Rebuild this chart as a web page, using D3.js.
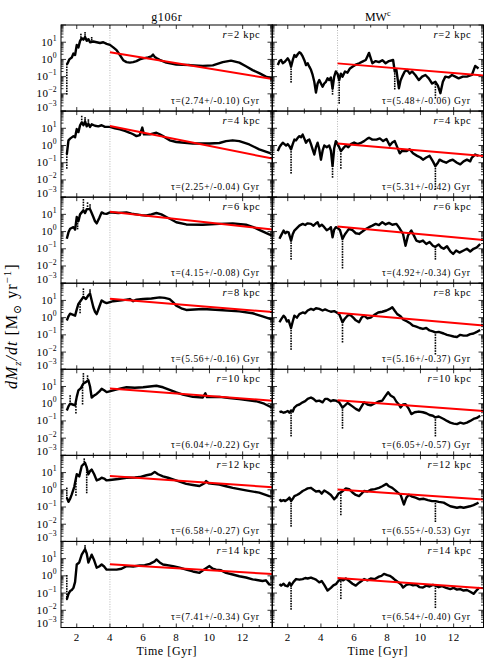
<!DOCTYPE html>
<html>
<head>
<meta charset="utf-8">
<script src="https://cdn.jsdelivr.net/npm/d3@7"></script>
<style>
  body { margin: 0; background: #fff; }
  text { font-family: "Liberation Serif", "DejaVu Serif", serif; fill: #000; }
</style>
</head>
<body>
<div id="vis-container"></div>
<script>
// ---- data ----
const columns = ["g106r", "MW"];
const radii = [2, 4, 6, 8, 10, 12, 14];

const tauG = [2.74, 2.25, 4.15, 5.56, 6.04, 6.58, 7.41];
const tauErrG = [0.10, 0.04, 0.08, 0.16, 0.22, 0.27, 0.34];
const tauMW = [5.48, 5.31, 4.92, 5.16, 6.05, 6.55, 6.54];
const tauErrMW = [0.06, 0.42, 0.34, 0.37, 0.57, 0.53, 0.40];

// fitted rate at the start of the fit window
const fitStartG = [2.6, 13.5, 14, 12.4, 7.6, 6.3, 4.8];
const fitStartMW = [0.59, 1.3, 1.95, 1.9, 1.6, 1.05, 0.74];
const fitFrom = [4, 5];
const fitTo = 13.8;

const xTicks = [2, 4, 6, 8, 10, 12];
const yTicks = [1e-3, 1e-2, 1e-1, 1e0, 1e1];

// [time Gyr, dMz/dt Msun/yr]
const gCurves = [
  [[1.4,0.5],[1.45,0.6],[1.55,1.0],[1.7,1.3],[1.8,2.2],[1.9,1.8],[2.0,7],[2.1,5],[2.2,12],[2.3,17],[2.4,14],[2.5,20],[2.6,12],[2.7,15],[2.8,10],[3.0,11],[3.2,10],[3.4,9],[3.6,10],[3.8,8],[4.0,7],[4.2,5],[4.4,3.5],[4.6,1.8],[4.8,0.9],[5.0,0.7],[5.2,0.65],[5.4,0.7],[5.6,0.8],[5.8,1.0],[6.0,1.15],[6.3,1.3],[6.5,1.5],[6.6,1.9],[6.7,1.4],[6.8,1.2],[7.0,0.95],[7.4,0.65],[8.0,0.5],[8.8,0.47],[9.6,0.42],[10.2,0.45],[10.8,0.7],[11.3,0.85],[11.8,0.65],[12.2,0.4],[12.6,0.24],[13.0,0.16],[13.4,0.1],[13.75,0.08]],
  [[1.4,0.3],[1.5,2.0],[1.6,2.5],[1.8,3.5],[1.9,3],[2.0,9],[2.1,6],[2.2,15],[2.3,22],[2.4,15],[2.5,25],[2.6,13],[2.7,18],[2.8,12],[2.9,17],[3.1,14],[3.3,13],[3.5,15],[3.7,12],[4.0,12],[4.3,10],[4.6,8.7],[4.9,7],[5.2,5.5],[5.4,4.5],[5.6,3.5],[5.8,4],[5.95,11],[6.05,4.4],[6.4,4.4],[6.8,5.5],[7.0,4.5],[7.2,3.5],[7.6,2],[8.0,1.6],[9.0,1.3],[10.0,1.3],[10.6,1.4],[11.0,1.8],[11.4,2.0],[11.8,1.8],[12.4,1.15],[13.0,0.6],[13.7,0.35]],
  [[1.4,0.38],[1.5,0.9],[1.6,1.45],[1.8,1.8],[1.9,1.3],[2.0,7],[2.1,4],[2.2,10],[2.4,17],[2.5,12],[2.6,20],[2.8,20],[2.9,12],[3.0,7],[3.1,4],[3.2,3],[3.35,6],[3.5,13],[3.65,11],[3.8,10.7],[4.0,13],[4.5,12],[5.0,13],[5.3,11],[5.6,10],[5.9,9],[6.2,8.6],[6.5,10],[6.8,12],[7.1,10],[7.4,7],[7.7,5],[8.0,3.5],[8.6,2.6],[9.6,2.5],[10.6,2.8],[11.4,3.0],[12.2,2.5],[12.6,1.9],[13.0,1.25],[13.6,0.68],[13.75,0.6]],
  [[1.4,0.68],[1.5,1.2],[1.6,1.7],[1.75,1.5],[1.9,1.3],[2.0,3],[2.1,6.3],[2.25,10],[2.4,16],[2.55,12],[2.7,20],[2.8,25],[2.9,10],[3.0,4],[3.1,2.2],[3.2,1.6],[3.35,4],[3.5,10],[3.65,8],[3.8,7],[4.2,9],[4.7,10],[5.2,12],[5.4,9],[5.6,11],[6.0,12],[6.5,13],[7.0,15],[7.3,14],[7.6,12],[7.8,8],[8.0,5],[8.3,3.5],[8.6,2.8],[9.6,3.2],[10.6,2.8],[11.8,2.3],[12.6,1.8],[13.2,1.2],[13.75,0.8]],
  [[1.4,0.4],[1.5,0.7],[1.6,1.0],[1.75,0.9],[1.9,0.8],[2.0,2.5],[2.1,6],[2.25,8],[2.4,15],[2.55,18],[2.7,23],[2.8,10],[2.9,2.3],[3.05,3],[3.2,3.7],[3.35,5],[3.5,7.3],[3.65,6],[3.8,4.7],[4.2,6],[4.6,7.5],[5.0,9],[5.5,8.5],[6.0,9],[6.4,10],[6.8,11],[7.2,9],[7.6,6.3],[8.0,4.5],[8.4,3.4],[9.0,2.5],[9.6,2.3],[9.75,4],[9.85,2.4],[10.6,2.5],[11.2,2.1],[11.8,1.85],[12.8,1.4],[13.3,1.0],[13.75,0.6]],
  [[1.4,0.35],[1.5,0.2],[1.6,0.3],[1.7,0.54],[1.85,1.5],[2.0,8],[2.15,6],[2.3,24],[2.4,30],[2.5,37],[2.6,20],[2.7,8],[2.8,12],[2.9,15],[3.05,8],[3.2,3.5],[3.35,4],[3.5,5],[3.65,4.5],[3.8,3.5],[4.0,3.7],[4.5,4.2],[5.0,5],[5.5,5.2],[5.8,5.5],[6.2,7],[6.5,8],[6.7,11],[6.9,8],[7.2,6],[7.5,5],[7.8,4],[8.2,3],[8.6,2.2],[9.0,1.9],[9.4,1.65],[9.7,2.4],[9.8,3.2],[9.95,2.4],[10.2,2.2],[10.6,2.0],[11.0,1.6],[11.4,1.3],[12.2,0.93],[13.0,0.68],[13.6,0.43],[13.75,0.4]],
  [[1.4,0.043],[1.5,0.09],[1.6,0.13],[1.7,0.15],[1.8,0.2],[1.9,0.45],[2.0,4.6],[2.15,6],[2.3,17],[2.4,25],[2.5,35],[2.6,20],[2.7,6],[2.8,10],[2.9,17],[3.05,8],[3.2,3],[3.35,3.5],[3.5,4.6],[3.65,3.5],[3.8,2.3],[4.4,2.3],[4.7,2.6],[5.0,3.7],[5.4,3.5],[5.8,4],[6.1,4.2],[6.4,5],[6.7,7],[6.8,9],[7.0,6],[7.2,4.6],[7.8,3.7],[8.2,3],[8.6,2.3],[9.0,1.8],[9.4,1.5],[9.7,2.4],[10.0,3.7],[10.2,2.6],[10.4,2.3],[10.7,2.1],[11.0,1.5],[11.4,1.2],[11.8,0.95],[12.2,0.8],[12.6,0.63],[13.2,0.5],[13.4,0.55],[13.6,0.32],[13.75,0.3]]
];

const mwCurves = [
  [[1.4,0.47],[1.5,0.8],[1.6,0.93],[1.7,0.6],[1.8,0.7],[1.9,0.9],[2.0,1.15],[2.1,0.8],[2.2,0.38],[2.3,0.9],[2.4,1.8],[2.5,1.4],[2.6,2.0],[2.7,2.6],[2.8,2.2],[2.9,1.5],[3.0,0.9],[3.1,0.47],[3.2,0.6],[3.3,0.38],[3.4,0.25],[3.5,0.125],[3.6,0.05],[3.7,0.012],[3.8,0.04],[3.9,0.063],[4.0,0.04],[4.1,0.026],[4.2,0.04],[4.3,0.05],[4.4,0.08],[4.5,0.063],[4.6,0.09],[4.7,0.02],[4.8,0.1],[4.9,0.2],[5.0,0.15],[5.1,0.063],[5.2,0.15],[5.3,0.1],[5.45,0.2],[5.6,0.17],[5.75,0.3],[5.9,0.38],[6.1,0.5],[6.3,0.6],[6.5,0.75],[6.7,0.93],[6.8,1.5],[6.9,2.4],[7.0,1.2],[7.1,0.6],[7.3,0.8],[7.5,0.7],[7.7,0.9],[7.9,0.6],[8.1,0.8],[8.35,0.93],[8.45,0.2],[8.55,0.25],[8.7,0.021],[8.8,0.06],[8.9,0.1],[9.05,0.2],[9.2,0.24],[9.35,0.15],[9.5,0.2],[9.7,0.12],[9.9,0.063],[10.1,0.1],[10.3,0.125],[10.5,0.08],[10.7,0.04],[10.9,0.05],[11.05,0.03],[11.2,0.011],[11.35,0.05],[11.5,0.1],[11.7,0.09],[11.9,0.125],[12.1,0.1],[12.3,0.08],[12.55,0.1],[12.8,0.1],[13.1,0.125],[13.3,0.42],[13.5,0.3]],
  [[1.4,0.47],[1.5,0.8],[1.6,1.1],[1.7,1.45],[1.8,1.2],[1.9,1.0],[2.0,1.2],[2.1,0.9],[2.2,0.6],[2.3,1.2],[2.4,2.2],[2.5,2.0],[2.6,2.8],[2.7,3.5],[2.8,3.0],[2.9,4.3],[3.0,2.5],[3.1,1.45],[3.2,2.0],[3.3,2.2],[3.4,1.2],[3.5,0.6],[3.6,0.3],[3.7,0.8],[3.8,1.45],[3.9,0.6],[4.0,0.15],[4.1,0.5],[4.2,1.0],[4.35,0.8],[4.5,1.0],[4.6,0.5],[4.7,0.063],[4.8,0.7],[4.9,1.8],[5.0,1.2],[5.1,0.8],[5.2,0.47],[5.35,0.7],[5.5,1.0],[5.65,0.8],[5.8,1.2],[6.0,1.5],[6.2,1.2],[6.4,1.4],[6.6,1.8],[6.8,2.5],[6.9,2.8],[7.1,2.2],[7.35,2.2],[7.55,2.6],[7.75,1.8],[7.95,2.4],[8.15,1.0],[8.3,1.5],[8.45,1.8],[8.6,0.8],[8.75,0.35],[8.9,0.5],[9.15,0.47],[9.35,0.6],[9.55,0.35],[9.8,0.25],[10.0,0.2],[10.15,0.15],[10.35,0.2],[10.55,0.25],[10.75,0.12],[10.9,0.063],[11.05,0.1],[11.15,0.15],[11.35,0.12],[11.55,0.1],[11.75,0.13],[11.95,0.15],[12.2,0.1],[12.4,0.08],[12.6,0.12],[12.8,0.15],[13.0,0.12],[13.1,0.2],[13.3,0.3],[13.5,0.25]],
  [[1.5,0.38],[1.6,0.6],[1.75,1.15],[1.85,0.8],[1.95,0.97],[2.05,0.9],[2.2,0.3],[2.3,0.7],[2.4,1.15],[2.55,1.6],[2.7,2.2],[2.9,2.8],[3.05,2.4],[3.2,3.0],[3.4,2.8],[3.55,2.2],[3.7,3.0],[3.8,3.5],[3.9,2.0],[4.05,2.5],[4.2,1.8],[4.35,1.2],[4.5,1.45],[4.6,1.8],[4.7,0.47],[4.8,1.3],[4.9,1.8],[5.05,1.5],[5.15,1.2],[5.3,0.38],[5.45,0.7],[5.6,1.1],[5.7,1.45],[5.9,1.2],[6.1,0.8],[6.3,0.73],[6.5,1.0],[6.7,1.4],[6.9,1.8],[7.1,2.2],[7.3,2.8],[7.5,2.4],[7.7,3.5],[7.9,2.6],[8.1,3.2],[8.3,2.5],[8.55,2.8],[8.75,1.5],[8.95,0.73],[9.1,0.15],[9.25,0.6],[9.45,1.15],[9.6,0.6],[9.75,0.3],[9.95,0.25],[10.15,0.3],[10.35,0.19],[10.55,0.25],[10.75,0.15],[10.9,0.13],[11.1,0.18],[11.25,0.12],[11.4,0.1],[11.6,0.14],[11.8,0.07],[11.97,0.05],[12.15,0.08],[12.35,0.06],[12.6,0.08],[12.8,0.1],[13.0,0.07],[13.2,0.1],[13.4,0.12],[13.6,0.19]],
  [[1.5,0.54],[1.6,0.8],[1.75,1.3],[1.85,1.0],[1.95,0.6],[2.05,0.7],[2.2,0.25],[2.3,0.6],[2.4,1.3],[2.55,1.0],[2.7,1.6],[2.9,2.0],[3.05,1.8],[3.2,2.6],[3.4,3.2],[3.55,2.8],[3.7,3.5],[3.9,3.2],[4.1,2.6],[4.25,3.0],[4.4,2.6],[4.6,2.2],[4.8,2.4],[4.95,2.0],[5.1,1.6],[5.3,0.54],[5.45,0.9],[5.6,1.3],[5.75,1.5],[5.95,1.0],[6.1,0.7],[6.3,0.54],[6.45,1.0],[6.6,1.3],[6.8,0.9],[7.0,1.0],[7.2,1.4],[7.45,2.0],[7.7,2.2],[7.95,2.6],[8.15,3.2],[8.3,4.0],[8.45,2.5],[8.6,1.6],[8.8,1.2],[8.95,0.8],[9.2,0.6],[9.4,0.45],[9.55,0.34],[9.75,0.3],[9.95,0.25],[10.15,0.22],[10.35,0.25],[10.55,0.18],[10.75,0.16],[10.9,0.14],[11.1,0.15],[11.4,0.12],[11.6,0.1],[11.8,0.09],[12.0,0.08],[12.2,0.075],[12.4,0.1],[12.6,0.09],[12.8,0.09],[13.0,0.11],[13.2,0.12],[13.4,0.15],[13.6,0.19]],
  [[1.5,0.32],[1.6,0.35],[1.75,0.3],[1.85,0.32],[2.0,0.38],[2.1,0.3],[2.2,0.4],[2.3,0.35],[2.4,0.6],[2.55,0.8],[2.7,0.9],[2.9,1.2],[3.05,1.4],[3.2,1.9],[3.4,2.3],[3.55,1.9],[3.7,1.4],[3.9,1.5],[4.1,1.2],[4.25,1.9],[4.4,1.9],[4.6,1.4],[4.75,1.6],[4.9,1.5],[5.1,1.2],[5.3,0.6],[5.45,0.8],[5.6,1.1],[5.7,0.95],[5.9,0.7],[6.1,0.5],[6.3,0.4],[6.45,0.7],[6.6,1.2],[6.8,0.9],[7.0,0.8],[7.2,1.0],[7.45,1.3],[7.7,1.5],[7.85,2.5],[8.05,4.6],[8.2,3.0],[8.4,2.3],[8.55,1.3],[8.7,0.9],[8.8,0.6],[8.95,0.9],[9.1,0.95],[9.3,0.5],[9.45,0.25],[9.65,0.32],[9.9,0.35],[10.15,0.32],[10.35,0.28],[10.55,0.22],[10.75,0.2],[10.9,0.16],[11.1,0.18],[11.4,0.13],[11.6,0.1],[11.8,0.08],[12.0,0.07],[12.2,0.065],[12.4,0.08],[12.6,0.07],[12.8,0.08],[13.0,0.1],[13.2,0.13],[13.4,0.15],[13.6,0.2]],
  [[1.5,0.28],[1.6,0.22],[1.75,0.25],[1.85,0.22],[2.0,0.28],[2.1,0.35],[2.2,0.22],[2.3,0.3],[2.4,0.43],[2.55,0.5],[2.7,0.6],[2.9,0.85],[3.05,1.0],[3.2,1.2],[3.4,1.3],[3.55,1.0],[3.7,0.8],[3.9,0.85],[4.05,0.6],[4.2,0.9],[4.4,0.7],[4.6,0.5],[4.8,0.28],[4.95,0.4],[5.05,0.6],[5.2,0.7],[5.35,0.9],[5.5,1.2],[5.7,1.1],[5.9,0.7],[6.1,0.5],[6.3,0.43],[6.45,0.6],[6.6,0.85],[6.8,0.8],[7.0,1.0],[7.25,1.1],[7.5,1.3],[7.7,1.6],[7.95,2.2],[8.1,1.6],[8.3,1.3],[8.5,0.9],[8.7,0.6],[8.8,0.52],[9.0,0.14],[9.15,0.35],[9.3,0.52],[9.5,0.4],[9.7,0.35],[9.95,0.28],[10.2,0.3],[10.45,0.25],[10.7,0.22],[10.9,0.22],[11.1,0.2],[11.4,0.18],[11.6,0.14],[11.8,0.11],[12.0,0.1],[12.2,0.09],[12.4,0.1],[12.6,0.09],[12.8,0.1],[12.98,0.11],[13.2,0.13],[13.35,0.15],[13.5,0.18]],
  [[1.5,0.33],[1.6,0.27],[1.75,0.35],[1.85,0.27],[2.0,0.25],[2.1,0.4],[2.2,0.27],[2.35,0.45],[2.5,0.65],[2.7,0.6],[2.9,0.65],[3.05,0.75],[3.2,0.7],[3.4,0.8],[3.55,0.7],[3.7,0.6],[3.9,0.42],[4.05,0.5],[4.2,0.3],[4.4,0.14],[4.6,0.2],[4.75,0.28],[4.9,0.33],[5.05,0.5],[5.2,0.65],[5.35,0.55],[5.5,0.7],[5.7,0.5],[5.9,0.35],[6.1,0.27],[6.3,0.4],[6.45,0.5],[6.6,0.65],[6.8,0.55],[7.0,0.7],[7.25,0.65],[7.5,0.9],[7.65,1.0],[7.8,1.3],[8.0,1.1],[8.15,1.0],[8.3,0.8],[8.5,0.55],[8.7,0.4],[8.85,0.3],[8.95,0.21],[9.15,0.3],[9.35,0.33],[9.55,0.28],[9.75,0.3],[9.95,0.22],[10.15,0.21],[10.35,0.27],[10.55,0.24],[10.75,0.3],[10.9,0.27],[11.1,0.22],[11.3,0.25],[11.55,0.2],[11.8,0.17],[12.0,0.2],[12.2,0.16],[12.4,0.17],[12.6,0.14],[12.8,0.15],[13.0,0.12],[13.2,0.09],[13.4,0.15],[13.55,0.21]]
];

// scattered points that run off the curve: [time, far value]
const gSpikes = [
  [[1.4,0.01],[2.25,28],[2.5,35],[2.9,18]],
  [[1.4,0.05],[2.3,48],[2.5,40],[2.7,30]],
  [[2.05,1.5],[2.4,70],[2.65,45],[2.8,35]],
  [[2.2,2],[2.4,45],[2.8,40]],
  [[1.6,2.8],[1.95,0.3],[2.35,1.0],[2.4,54],[2.65,40]],
  [[1.4,1.2],[1.95,0.5],[2.45,60],[2.6,0.7]],
  [[1.4,1.0],[2.5,55]]
];
const mwDips = [
  [[2.2,0.05],[4.7,0.01],[5.1,0.003],[8.45,0.02],[10.9,0.006]],
  [[2.2,0.026],[4.7,0.015],[5.2,0.05],[10.9,0.003]],
  [[2.2,0.026],[5.3,0.008],[10.9,0.026]],
  [[2.2,0.015],[5.3,0.04],[10.9,0.008]],
  [[2.2,0.014],[5.3,0.04],[10.9,0.014]],
  [[2.2,0.008],[5.2,0.037],[10.9,0.015]],
  [[2.2,0.012],[5.2,0.05],[10.9,0.015]]
];

// ---- layout ----
const W = 504, H = 661;
const colX = [61, 272];
const panelW = 211.5;
const top0 = 25;
const panelH = (627.5 - top0) / 7;

const svg = d3.select("#vis-container")
  .append("svg")
  .attr("width", W)
  .attr("height", H);

const x = d3.scaleLinear().domain([1.05, 13.8]).range([0, panelW]);
const y = d3.scaleLog().domain([1e-3, 1e2]).range([panelH, 0]);

const line = d3.line()
  .x(d => x(d[0]))
  .y(d => y(d[1]));

// value of a curve at time t (linear in log space)
function valueAt(curve, t){
  let i = d3.bisector(d => d[0]).left(curve, t);
  if(i <= 0) return curve[0][1];
  if(i >= curve.length) return curve[curve.length-1][1];
  let a = curve[i-1], b = curve[i];
  let f = (t - a[0]) / (b[0] - a[0]);
  return Math.pow(10, Math.log10(a[1]) + f*(Math.log10(b[1]) - Math.log10(a[1])));
}

const minorY = [];
for(let e = -3; e < 2; e++){
  for(let m = 2; m <= 9; m++) minorY.push(m * Math.pow(10, e));
}
const minorX = d3.range(2, 14, 1);

function supLabel(sel, base, exp, size){
  sel.append("tspan").text(base);
  sel.append("tspan")
    .attr("dy", -size*0.45)
    .attr("font-size", size*0.7)
    .text(exp);
}

function drawPanel(col, row){
  let curve = col === 0 ? gCurves[row] : mwCurves[row];
  let extra = col === 0 ? gSpikes[row] : mwDips[row];
  let tau = col === 0 ? tauG[row] : tauMW[row];
  let err = col === 0 ? tauErrG[row] : tauErrMW[row];
  let A = col === 0 ? fitStartG[row] : fitStartMW[row];
  let t0 = fitFrom[col];

  let g = svg.append("g")
    .attr("transform", `translate(${colX[col]},${top0 + row*panelH})`);

  let clipId = `clip-${col}-${row}`;
  g.append("clipPath").attr("id", clipId)
    .append("rect").attr("width", panelW).attr("height", panelH);

  let plot = g.append("g").attr("clip-path", `url(#${clipId})`);

  // start of fit window
  plot.append("line")
    .attr("x1", x(t0)).attr("x2", x(t0))
    .attr("y1", 0).attr("y2", panelH)
    .attr("stroke", "#888")
    .attr("stroke-width", 0.6)
    .attr("stroke-dasharray", "1,1.5");

  // dotted runs off the curve
  for(let s of extra){
    let y1 = y(valueAt(curve, s[0]));
    let y2 = y(s[1]);
    let n = Math.max(2, Math.round(Math.abs(y2 - y1) / 2.6));
    let pts = d3.range(n + 1).map(k => y1 + (y2 - y1) * k / n);
    plot.selectAll(null)
      .data(pts)
      .enter()
      .append("rect")
      .attr("x", x(s[0]) - 0.8)
      .attr("y", d => d - 0.8)
      .attr("width", 1.6)
      .attr("height", 1.6)
      .attr("fill", "#000");
  }

  plot.append("path")
    .datum(curve)
    .attr("d", line)
    .attr("fill", "none")
    .attr("stroke", "#000")
    .attr("stroke-width", 2.4)
    .attr("stroke-linejoin", "round");

  // exponential fit
  let fit = [t0, fitTo].map(t => [t, A * Math.exp(-(t - t0) / tau)]);
  plot.append("path")
    .datum(fit)
    .attr("d", line)
    .attr("fill", "none")
    .attr("stroke", "#ff0000")
    .attr("stroke-width", 2);

  // frame and inward ticks
  g.append("rect")
    .attr("width", panelW).attr("height", panelH)
    .attr("fill", "none").attr("stroke", "#000").attr("stroke-width", 1);

  let ticks = g.append("g").attr("stroke", "#000").attr("stroke-width", 0.8);
  for(let v of yTicks.concat([1e2])){
    ticks.append("line").attr("x1", 0).attr("x2", 5).attr("y1", y(v)).attr("y2", y(v));
    ticks.append("line").attr("x1", panelW).attr("x2", panelW-5).attr("y1", y(v)).attr("y2", y(v));
  }
  for(let v of minorY){
    ticks.append("line").attr("x1", 0).attr("x2", 2.5).attr("y1", y(v)).attr("y2", y(v));
    ticks.append("line").attr("x1", panelW).attr("x2", panelW-2.5).attr("y1", y(v)).attr("y2", y(v));
  }
  for(let t of minorX){
    let len = t % 2 === 0 ? 4 : 2.5;
    ticks.append("line").attr("x1", x(t)).attr("x2", x(t)).attr("y1", 0).attr("y2", len);
    ticks.append("line").attr("x1", x(t)).attr("x2", x(t)).attr("y1", panelH).attr("y2", panelH-len);
  }

  // radius label
  let rl = g.append("text")
    .attr("x", panelW - 12)
    .attr("y", 13)
    .attr("text-anchor", "end")
    .attr("font-size", 10.5)
    .attr("letter-spacing", 0.7);
  rl.append("tspan").attr("font-style", "italic").text("r");
  rl.append("tspan").text(`=${radii[row]} kpc`);

  // tau label
  g.append("text")
    .attr("x", panelW - 13)
    .attr("y", panelH - 7)
    .attr("text-anchor", "end")
    .attr("font-size", 9.5)
    .attr("letter-spacing", 0.6)
    .text(`\u03C4=(${tau.toFixed(2)}+/-${err.toFixed(2)}) Gyr`);

  // y tick labels, left column only
  if(col === 0){
    for(let v of yTicks){
      let e = Math.round(Math.log10(v));
      let ty = y(v) + 3.5 - (e === -3 ? 4 : 0);
      let t = g.append("text")
        .attr("x", -4)
        .attr("y", ty)
        .attr("text-anchor", "end")
        .attr("font-size", 11)
        .attr("letter-spacing", 0.3);
      supLabel(t, "10", e < 0 ? "\u2212" + (-e) : String(e), 11);
    }
  }

  // x tick labels, bottom row only
  if(row === 6){
    g.selectAll(null)
      .data(xTicks)
      .enter()
      .append("text")
      .attr("x", d => x(d))
      .attr("y", panelH + 14)
      .attr("text-anchor", "middle")
      .attr("font-size", 11)
      .attr("letter-spacing", 0.4)
      .text(d => d);

    g.append("text")
      .attr("x", panelW / 2)
      .attr("y", panelH + 28)
      .attr("text-anchor", "middle")
      .attr("font-size", 12)
      .attr("letter-spacing", 0.6)
      .text("Time [Gyr]");
  }
}

for(let c = 0; c < 2; c++){
  for(let r = 0; r < radii.length; r++) drawPanel(c, r);
}

// column titles
svg.append("text")
  .attr("x", colX[0] + panelW/2)
  .attr("y", 21)
  .attr("text-anchor", "middle")
  .attr("font-size", 12)
  .attr("letter-spacing", 0.6)
  .text(columns[0]);

let mwT = svg.append("text")
  .attr("x", colX[1] + panelW/2)
  .attr("y", 21)
  .attr("text-anchor", "middle")
  .attr("font-size", 12);
supLabel(mwT, columns[1], "c", 12);

// y axis title
let yl = svg.append("text")
  .attr("transform", `translate(17,${top0 + 3.5*panelH}) rotate(-90)`)
  .attr("text-anchor", "middle")
  .attr("font-size", 16)
  .attr("letter-spacing", 1);
yl.append("tspan").attr("font-style", "italic").text("dM");
yl.append("tspan").attr("font-style", "italic").attr("font-size", 11).attr("dy", 4).text("z");
yl.append("tspan").attr("font-style", "italic").attr("dy", -4).text("/dt");
yl.append("tspan").text(" [M");
yl.append("tspan").attr("font-size", 11).attr("dy", 4).text("\u2299");
yl.append("tspan").attr("dy", -4).text(" yr");
yl.append("tspan").attr("font-size", 11).attr("dy", -6).text("\u22121");
yl.append("tspan").attr("dy", 6).text("]");
</script>
</body>
</html>
